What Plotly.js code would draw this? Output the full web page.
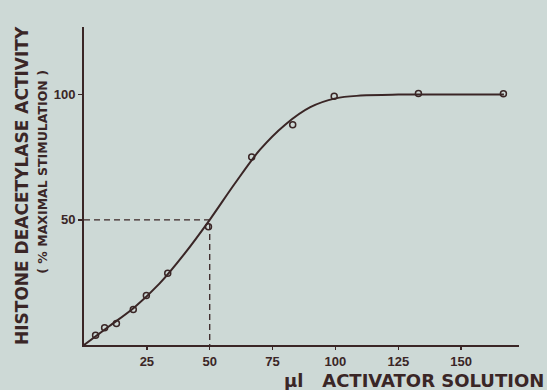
<!DOCTYPE html>
<html>
<head>
<meta charset="utf-8">
<script src="https://cdn.plot.ly/plotly-3.0.1.min.js"></script>
<style>html,body{margin:0;padding:0;background:#cdd9d6;}#chart{width:547px;height:390px;}</style>
</head>
<body>
<div id="chart"></div>
<script>
// measured points (µl activator solution, % maximal stimulation)
const volumeUl = [4.6, 8.2, 12.9, 19.6, 24.8, 33.3, 49.5, 66.7, 83, 99.5, 133, 166.8];
const activityPct = [3.9, 6.9, 8.6, 14.2, 19.8, 28.7, 47.2, 75.1, 88, 99.3, 100.4, 100.3];
// smooth curve
const curveX = [0, 10, 20, 30, 40, 50, 60, 70, 80, 90, 100, 110, 125, 150, 167];
const curveY = [0, 7.5, 15, 24.5, 36.5, 50, 64.5, 78, 88, 95, 98.5, 99.6, 100, 100, 100];
// half-maximal guide
const halfX = 50, halfY = 50;
const xTicks = [25, 50, 75, 100, 125, 150];
const yTicks = [50, 100];

const ink = '#3a2626';
const titleFont = 'DejaVu Sans, Verdana, sans-serif';
const tickFont = {size: 13, color: ink, family: 'Liberation Sans, Arial, sans-serif', weight: 'bold'};
const traces = [
  {x: [0, halfX, halfX], y: [halfY, halfY, 0], mode: 'lines', line: {color: ink, width: 1.3, dash: '6px,4px'}, hoverinfo: 'skip'},
  {x: curveX, y: curveY, mode: 'lines', line: {color: ink, width: 2, shape: 'spline', smoothing: 1}, hoverinfo: 'skip'},
  {x: volumeUl, y: activityPct, mode: 'markers', marker: {symbol: 'circle-open', size: 6, color: ink, line: {width: 1.5, color: ink}}}
];

const layout = {
  width: 547, height: 390,
  paper_bgcolor: '#cdd9d6', plot_bgcolor: 'rgba(0,0,0,0)',
  showlegend: false,
  margin: {l: 84, r: 28, t: 27, b: 45},
  font: {family: 'Liberation Sans, Arial, sans-serif', color: ink},
  xaxis: {
    range: [0, 173], showgrid: false, zeroline: false,
    showline: true, linecolor: ink, linewidth: 2,
    tickvals: xTicks, ticks: 'outside', ticklen: 3, tickwidth: 1.5, tickcolor: ink,
    tickfont: tickFont
  },
  yaxis: {
    range: [0, 127], showgrid: false, zeroline: false,
    showline: true, linecolor: ink, linewidth: 2,
    tickvals: yTicks, ticks: 'outside', ticklen: 4, tickwidth: 1.5, tickcolor: ink,
    tickfont: tickFont
  },
  annotations: [
    {text: '<b>HISTONE DEACETYLASE ACTIVITY</b>', textangle: -90, xref: 'paper', yref: 'paper',
     x: 0, y: 0.50, xanchor: 'center', yanchor: 'middle', xshift: -62, showarrow: false,
     font: {size: 17, color: ink, family: titleFont}},
    {text: '<b>( % MAXIMAL STIMULATION )</b>', textangle: -90, xref: 'paper', yref: 'paper',
     x: 0, y: 0.545, xanchor: 'center', yanchor: 'middle', xshift: -41, showarrow: false,
     font: {size: 12.5, color: ink, family: titleFont}},
    {text: '<b>µl   ACTIVATOR SOLUTION</b>', xref: 'paper', yref: 'paper',
     x: 1, y: 0, xanchor: 'right', yanchor: 'middle', xshift: 27, yshift: -35, showarrow: false,
     font: {size: 18, color: ink, family: titleFont}}
  ]
};
Plotly.newPlot('chart', traces, layout, {staticPlot: true});
</script>
</body>
</html>
